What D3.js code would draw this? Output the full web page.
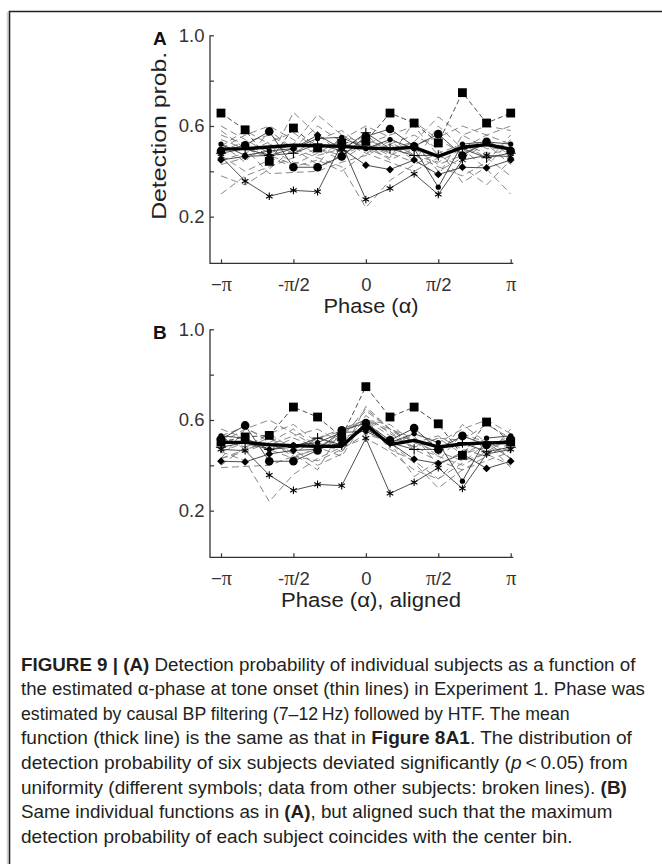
<!DOCTYPE html>
<html>
<head>
<meta charset="utf-8">
<script src="https://cdn.jsdelivr.net/npm/d3@7"></script>
<style>
  body { margin: 0; background: #fff; }
  svg { display: block; }
</style>
</head>
<body>
<svg id="fig" width="662" height="864"></svg>
<script>
// phase bins in units of pi/6, from -pi to pi (last bin repeats the first)
const BINS = [-6, -5, -4, -3, -2, -1, 0, 1, 2, 3, 4, 5, 6];
const X_TICKS = [-6, -3, 0, 3, 6];
const X_TICK_LABELS = ["\u2212\u03c0", "-\u03c0/2", "0", "\u03c0/2", "\u03c0"];
const Y_TICKS = [0.2, 0.4, 0.6, 0.8, 1.0];
const Y_TICK_LABELS = ["0.2", "", "0.6", "", "1.0"];

// subjects with symbols (significant), panel A values
const squareSubj  = [0.657, 0.583, 0.444, 0.591, 0.503, 0.525, 0.532, 0.657, 0.613, 0.525, 0.747, 0.613, 0.657];
const circleSubj  = [0.490, 0.515, 0.576, 0.418, 0.418, 0.466, 0.554, 0.587, 0.510, 0.564, 0.470, 0.530, 0.490];
const diamondSubj = [0.450, 0.466, 0.470, 0.500, 0.560, 0.500, 0.427, 0.408, 0.450, 0.386, 0.418, 0.415, 0.450];
const starSubj    = [0.465, 0.357, 0.290, 0.316, 0.310, 0.520, 0.276, 0.325, 0.389, 0.298, 0.450, 0.470, 0.465];
const dotSubj     = [0.520, 0.470, 0.490, 0.500, 0.545, 0.550, 0.500, 0.540, 0.500, 0.330, 0.520, 0.530, 0.520];
const plusSubj    = [0.480, 0.500, 0.470, 0.480, 0.520, 0.490, 0.570, 0.500, 0.470, 0.470, 0.500, 0.460, 0.480];

// other subjects (broken lines), panel A values
const broken1  = [0.300, 0.380, 0.420, 0.460, 0.500, 0.470, 0.520, 0.480, 0.440, 0.600, 0.500, 0.410, 0.300];
const broken2  = [0.600, 0.540, 0.480, 0.520, 0.650, 0.560, 0.500, 0.530, 0.470, 0.440, 0.500, 0.560, 0.600];
const broken3  = [0.540, 0.500, 0.390, 0.395, 0.400, 0.440, 0.470, 0.520, 0.560, 0.500, 0.350, 0.420, 0.540];
const broken4  = [0.500, 0.560, 0.600, 0.540, 0.470, 0.500, 0.560, 0.480, 0.530, 0.640, 0.560, 0.500, 0.500];
const broken5  = [0.470, 0.400, 0.450, 0.660, 0.560, 0.480, 0.520, 0.450, 0.500, 0.430, 0.470, 0.540, 0.470];
const broken6  = [0.560, 0.520, 0.470, 0.430, 0.480, 0.540, 0.600, 0.550, 0.470, 0.420, 0.380, 0.440, 0.560];
const broken7  = [0.380, 0.340, 0.410, 0.500, 0.460, 0.420, 0.240, 0.360, 0.430, 0.480, 0.520, 0.460, 0.380];
const broken8  = [0.510, 0.580, 0.520, 0.480, 0.540, 0.580, 0.500, 0.460, 0.620, 0.540, 0.480, 0.520, 0.510];
const broken9  = [0.450, 0.480, 0.530, 0.570, 0.500, 0.450, 0.520, 0.560, 0.600, 0.470, 0.420, 0.340, 0.450];
const broken10 = [0.580, 0.500, 0.460, 0.420, 0.450, 0.400, 0.480, 0.520, 0.450, 0.380, 0.560, 0.600, 0.580];
const broken11 = [0.490, 0.530, 0.560, 0.500, 0.600, 0.530, 0.480, 0.440, 0.400, 0.460, 0.520, 0.480, 0.490];
const broken12 = [0.430, 0.460, 0.500, 0.440, 0.420, 0.470, 0.540, 0.500, 0.530, 0.400, 0.460, 0.520, 0.430];
const broken13 = [0.520, 0.440, 0.580, 0.500, 0.430, 0.560, 0.520, 0.470, 0.520, 0.550, 0.600, 0.560, 0.520];

// mean functions (thick line)
const meanA = [0.498, 0.500, 0.507, 0.515, 0.513, 0.510, 0.503, 0.499, 0.506, 0.466, 0.506, 0.518, 0.498];
const meanB = [0.501, 0.501, 0.491, 0.487, 0.484, 0.484, 0.579, 0.491, 0.510, 0.481, 0.494, 0.499, 0.501];

const symbolSubjects = [
  {vals: squareSubj,  mark: "square",   dash: "5,3"},
  {vals: circleSubj,  mark: "circle",   dash: null},
  {vals: diamondSubj, mark: "diamond",  dash: null},
  {vals: starSubj,    mark: "asterisk", dash: null},
  {vals: dotSubj,     mark: "dot",      dash: null},
  {vals: plusSubj,    mark: "plus",     dash: null}
];
const brokenSubjects = [broken1, broken2, broken3, broken4, broken5, broken6, broken7,
                        broken8, broken9, broken10, broken11, broken12, broken13];

// panel B: same functions, rotated so that each maximum falls in the centre bin
function alignToPeak(vals) {
  const v = vals.slice(0, 12);
  const shift = v.indexOf(d3.max(v)) - 6;
  const out = v.map((_, k) => v[((k + shift) % 12 + 12) % 12]);
  out.push(out[0]);
  return out;
}

const SANS = "'Liberation Sans', Arial, Helvetica, sans-serif";
const SERIF = "'Liberation Serif', 'Times New Roman', serif";
const svg = d3.select("#fig");

// frame
svg.append("line").attr("x1", 7.5).attr("x2", 7.5).attr("y1", 12).attr("y2", 864)
  .attr("stroke", "#d0d0d0").attr("stroke-width", 1.5);
svg.append("path").attr("d", "M9.5,864 V11.5 H662")
  .attr("fill", "none").attr("stroke", "#222").attr("stroke-width", 1.6);

const X_SCALE = d3.scaleLinear().domain([-6, 6]).range([221, 510.7]);

const markGen = {
  square:   d3.symbol(d3.symbolSquare, 78),
  circle:   d3.symbol(d3.symbolCircle, 58),
  diamond:  d3.symbol(d3.symbolSquare, 30),
  asterisk: d3.symbol(d3.symbolAsterisk, 40),
  dot:      d3.symbol(d3.symbolCircle, 22),
  plus:     d3.symbol(d3.symbolPlus, 36)
};

function drawPanel(top, letter, aligned, meanVals, xLabel, xLabelLen) {
  const Y_SCALE = d3.scaleLinear().domain([0, 1]).range([top + 226.7, top]);
  const axisY = top + 228;
  const g = svg.append("g");
  const line = d3.line().x((d, i) => X_SCALE(BINS[i])).y(d => Y_SCALE(d));
  const prep = v => aligned ? alignToPeak(v) : v;

  // broken lines
  g.selectAll(".broken").data(brokenSubjects.map(prep)).enter()
    .append("path")
      .attr("d", line)
      .attr("fill", "none")
      .attr("stroke", "#7a7a7a")
      .attr("stroke-width", 0.9)
      .attr("stroke-dasharray", "7,4");

  // symbol subjects lines
  const subj = symbolSubjects.map(s => ({vals: prep(s.vals), mark: s.mark, dash: s.dash}));
  g.selectAll(".subj").data(subj).enter()
    .append("path")
      .attr("d", d => line(d.vals))
      .attr("fill", "none")
      .attr("stroke", "#3a3a3a")
      .attr("stroke-width", 0.9)
      .attr("stroke-dasharray", d => d.dash);

  // mean function
  g.append("path")
    .attr("d", line(meanVals))
    .attr("fill", "none")
    .attr("stroke", "#000")
    .attr("stroke-width", 3.4)
    .attr("stroke-linejoin", "round");

  // markers
  subj.forEach(s => {
    const stroked = (s.mark === "asterisk" || s.mark === "plus");
    g.selectAll(null).data(s.vals).enter()
      .append("path")
        .attr("transform", (d, i) => `translate(${X_SCALE(BINS[i])},${Y_SCALE(d)})` +
          (s.mark === "diamond" ? " rotate(45)" : ""))
        .attr("d", markGen[s.mark])
        .attr("fill", stroked ? "none" : "#000")
        .attr("stroke", stroked ? "#000" : "none")
        .attr("stroke-width", 1.1);
  });

  // axes
  const yAxis = g.append("g")
    .attr("transform", "translate(210,0)")
    .call(d3.axisLeft(Y_SCALE).tickValues(Y_TICKS).tickSize(-4).tickPadding(5.5)
      .tickFormat((d, i) => Y_TICK_LABELS[i]));
  yAxis.select(".domain").remove();
  yAxis.selectAll("line").attr("stroke", "#333").attr("stroke-width", 1.2);
  yAxis.selectAll("text").attr("font-family", SANS).attr("font-size", 18.5).attr("fill", "#333");

  const xAxis = g.append("g")
    .attr("transform", `translate(0,${axisY})`)
    .call(d3.axisBottom(X_SCALE).tickValues(X_TICKS).tickSize(-4).tickFormat(""));
  xAxis.select(".domain").remove();
  xAxis.selectAll("line").attr("stroke", "#333").attr("stroke-width", 1.2);
  xAxis.selectAll(".tick text")
    .attr("y", 28).attr("dy", null)
    .attr("font-family", SANS).attr("font-size", 18.5).attr("fill", "#333")
    .each(function(d, i) {
      const t = d3.select(this);
      X_TICK_LABELS[i].split(/(\u03c0)/).filter(p => p).forEach(p => {
        t.append("tspan").text(p)
          .attr("font-family", p === "\u03c0" ? SERIF : SANS)
          .attr("font-size", p === "\u03c0" ? 20 : 18.5);
      });
    });

  g.append("path")
    .attr("d", `M210,${top} V${axisY} H513.3`)
    .attr("fill", "none").attr("stroke", "#333").attr("stroke-width", 1.3);

  // panel letter
  g.append("text").attr("x", 153).attr("y", top + 10)
    .attr("font-family", SANS).attr("font-weight", "bold").attr("font-size", 19)
    .attr("fill", "#111").text(letter);

  // axis titles
  g.append("text")
    .attr("x", 371).attr("y", axisY + 50)
    .attr("text-anchor", "middle")
    .attr("font-family", SANS).attr("font-size", 20.5).attr("fill", "#222")
    .attr("textLength", xLabelLen).attr("lengthAdjust", "spacingAndGlyphs")
    .text(xLabel);

  if (!aligned) {
    g.append("text")
      .attr("transform", `translate(166,${top + 100.5}) rotate(-90)`)
      .attr("text-anchor", "middle")
      .attr("font-family", SANS).attr("font-size", 20.5).attr("fill", "#222")
      .attr("textLength", 168).attr("lengthAdjust", "spacingAndGlyphs")
      .text("Detection prob.");
  }
}

drawPanel(35.3, "A", false, meanA, "Phase (\u03b1)", 95);
drawPanel(329.3, "B", true, meanB, "Phase (\u03b1), aligned", 180);

// caption
const CAPTION = [
  [["b", "FIGURE 9 | (A)"], ["n", " Detection probability of individual subjects as a function of"]],
  [["n", "the estimated \u03b1-phase at tone onset (thin lines) in Experiment 1. Phase was"]],
  [["n", "estimated by causal BP filtering (7\u201312\u2009Hz) followed by HTF. The mean"]],
  [["n", "function (thick line) is the same as that in "], ["b", "Figure 8A1"], ["n", ". The distribution of"]],
  [["n", "detection probability of six subjects deviated significantly ("], ["i", "p"], ["n", "\u2009<\u20090.05) from"]],
  [["n", "uniformity (different symbols; data from other subjects: broken lines). "], ["b", "(B)"]],
  [["n", "Same individual functions as in "], ["b", "(A)"], ["n", ", but aligned such that the maximum"]],
  [["n", "detection probability of each subject coincides with the center bin."]]
];
const CAP_LEFT = 21, CAP_TOP = 670.5, CAP_STEP = 24.6;
const CAP_RIGHT = [636, 645, 570, 632, 628, 627, 613, 573];

CAPTION.forEach((parts, li) => {
  const g = svg.append("g");
  const t = g.append("text").attr("x", 0).attr("y", 0)
    .attr("font-family", SANS).attr("font-size", 18.5).attr("fill", "#231f20");
  parts.forEach(([kind, str]) => {
    t.append("tspan").text(str)
      .attr("font-weight", kind === "b" ? "bold" : null)
      .attr("font-style", kind === "i" ? "italic" : null);
  });
  const w = t.node().getComputedTextLength();
  const sx = (CAP_RIGHT[li] - CAP_LEFT) / w;
  g.attr("transform", `translate(${CAP_LEFT},${CAP_TOP + li * CAP_STEP}) scale(${sx},1)`);
});
</script>
</body>
</html>
